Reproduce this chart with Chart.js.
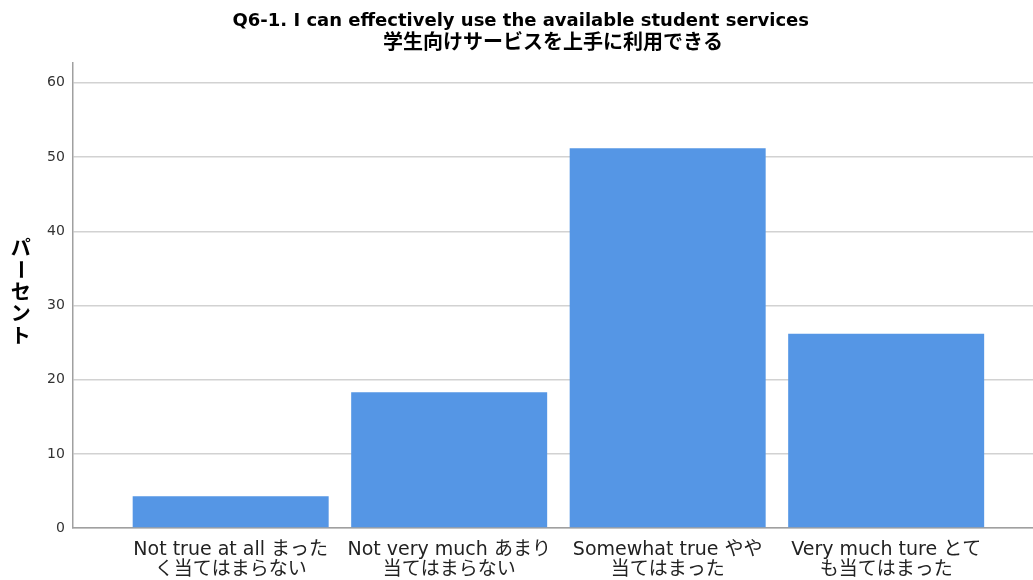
<!DOCTYPE html>
<html>
<head>
<meta charset="utf-8">
<script src="https://cdn.jsdelivr.net/npm/chart.js@4/dist/chart.umd.min.js"></script>
<style>
  html, body { margin: 0; padding: 0; background: #ffffff; }
  #wrap { width: 1033px; height: 580px; position: relative; }
</style>
</head>
<body>
<div id="wrap"><canvas id="c"></canvas></div>
<script>
// Survey item Q6-1: share of respondents (%) per answer
const titleText = 'Q6-1. I can effectively use the available student services\u3000  ';
const subtitleText = '\u3000  学生向けサービスを上手に利用できる';
const categories = [
  ['Not true at all まった', 'く当てはまらない'],
  ['Not very much あまり', '当てはまらない'],
  ['Somewhat true やや', '当てはまった'],
  ['Very much ture とて', 'も当てはまった']
];
const percents = [4.3, 18.3, 51.2, 26.2];
const yTicks = [0, 10, 20, 30, 40, 50, 60];
const yTitle = 'パーセント';

const FONT = "'DejaVu Sans', 'Noto Sans CJK JP', sans-serif";
const BAR_COLOR = '#5596e5';

// Vertical (top-to-bottom) axis caption with upright characters
const verticalTitle = {
  id: 'verticalTitle',
  afterDraw(chart) {
    const { ctx, chartArea } = chart;
    const chars = Array.from(yTitle);
    const step = 22;
    const x = chartArea.left - 52;
    const yc = (chartArea.top + chartArea.bottom) / 2 - 4;
    let y = yc - (chars.length - 1) * step / 2;
    ctx.save();
    ctx.fillStyle = '#000';
    ctx.font = `bold 20px 'Noto Sans CJK JP', sans-serif`;
    ctx.textAlign = 'center';
    ctx.textBaseline = 'middle';
    chars.forEach(ch => {
      if (ch === 'ー') {
        ctx.save();
        ctx.translate(x, y);
        ctx.rotate(Math.PI / 2);
        ctx.fillText(ch, 0, 0);
        ctx.restore();
      } else {
        ctx.fillText(ch, x, y);
      }
      y += step;
    });
    ctx.restore();
  }
};

new Chart(document.getElementById('c'), {
  type: 'bar',
  data: {
    datasets: [{
      data: percents.map((v, i) => ({ x: i, y: v })),
      backgroundColor: BAR_COLOR,
      borderWidth: 0,
      categoryPercentage: 1,
      barPercentage: 0.897
    }]
  },
  options: {
    responsive: true,
    maintainAspectRatio: false,
    animation: false,
    layout: { padding: { left: 39, right: 0, top: 2, bottom: -4 } },
    plugins: {
      legend: { display: false },
      tooltip: { enabled: false },
      title: {
        display: true,
        text: titleText,
        color: '#000',
        font: { family: FONT, size: 18, weight: 'bold', lineHeight: 1.1 },
        padding: { top: 9, bottom: 0 }
      },
      subtitle: {
        display: true,
        text: subtitleText,
        color: '#000',
        font: { family: FONT, size: 20, weight: 'bold', lineHeight: 1.1 },
        padding: { top: 2, bottom: 8 }
      }
    },
    scales: {
      x: {
        type: 'linear',
        offset: false,
        min: -0.7225,
        max: 3.672,
        afterBuildTicks(scale) {
          scale.ticks = categories.map((_, i) => ({ value: i }));
        },
        ticks: {
          autoSkip: false,
          maxRotation: 0,
          color: '#222',
          padding: 4,
          font: { family: FONT, size: 19, lineHeight: 1.05 },
          callback: v => categories[v]
        },
        grid: { display: false },
        border: { display: true, color: '#a0a0a0', width: 1.5 }
      },
      y: {
        min: 0,
        max: 62.7,
        afterBuildTicks(scale) {
          scale.ticks = yTicks.map(v => ({ value: v }));
        },
        ticks: {
          color: '#333',
          padding: 8,
          font: { family: FONT, size: 14 }
        },
        grid: { color: '#d2d2d2', lineWidth: 1.5, drawTicks: false },
        border: { display: true, color: '#a0a0a0', width: 1.5 }
      }
    }
  },
  plugins: [verticalTitle]
});
</script>
</body>
</html>
